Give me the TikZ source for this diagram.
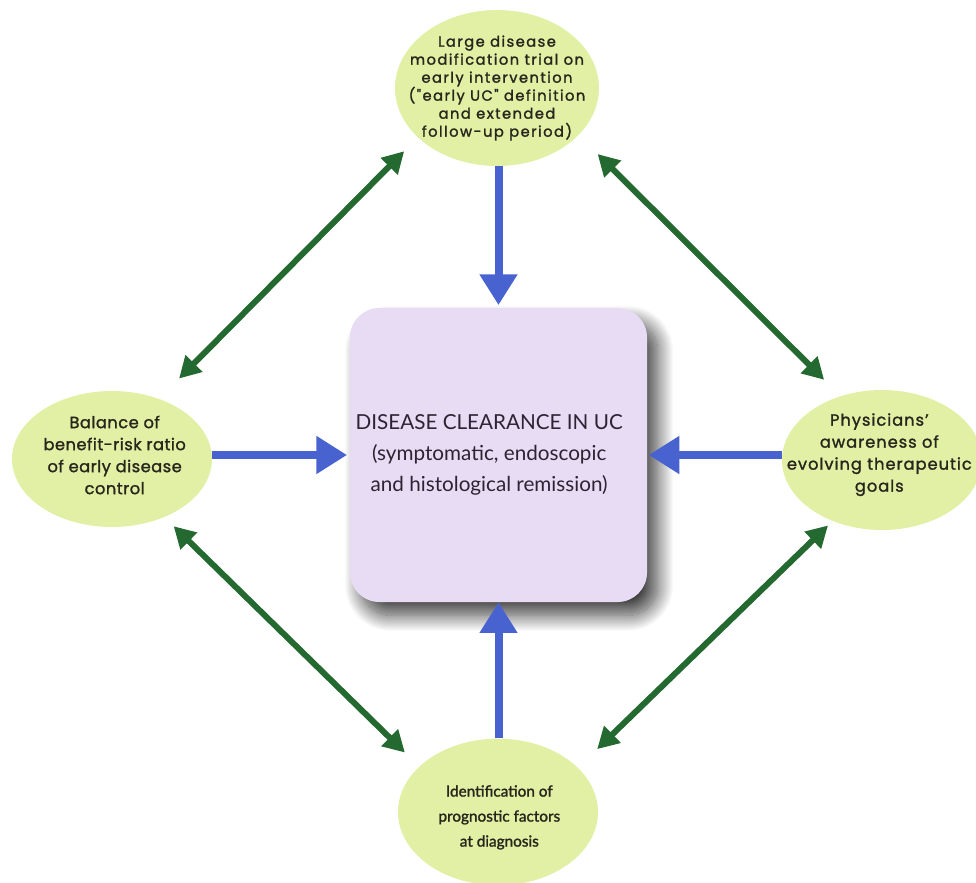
\documentclass[tikz,border=0pt]{standalone}
\usepackage{fontspec}
\setmainfont{Lato}
\newfontfamily\topfont[LetterSpace=10,FakeBold=1.6]{Poppins}
\newfontfamily\sidefont[LetterSpace=3,FakeBold=1.4]{Poppins}
\newfontfamily\rsidefont[LetterSpace=6,FakeBold=1.4]{Poppins}
\newfontfamily\botfont[FakeBold=1.5]{Lato}
\newfontfamily\ctrfont{Lato}
\usetikzlibrary{arrows.meta,shapes.geometric,shadows.blur}
\definecolor{ellfill}{RGB}{225,240,165}
\definecolor{boxfill}{RGB}{232,220,244}
\definecolor{bluearr}{RGB}{72,99,207}
\definecolor{greenarr}{RGB}{35,105,48}
\definecolor{txtdark}{RGB}{40,38,28}
\definecolor{ctrtxt}{RGB}{45,35,50}
\tikzset{
  ellnode/.style={ellipse, fill=ellfill, draw=none, inner sep=0pt},
  toptxt/.style={align=center, font=\topfont\fontsize{11}{13.5}\selectfont, text=txtdark, inner sep=0pt},
  sidetxt/.style={align=center, font=\sidefont\fontsize{12.2}{16.5}\selectfont, text=txtdark, inner sep=0pt},
  rsidetxt/.style={align=center, font=\rsidefont\fontsize{12.2}{16.5}\selectfont, text=txtdark, inner sep=0pt},
  bottxt/.style={align=center, font=\botfont\fontsize{11.5}{18.75}\selectfont, text=txtdark, inner sep=0pt},
  ctrtxtstyle/.style={align=center, font=\ctrfont\fontsize{15.5}{23}\selectfont, text=ctrtxt, inner sep=0pt},
  centerbox/.style={rectangle, rounded corners=22pt, fill=boxfill, draw=none,
     minimum width=222.75pt, minimum height=220.5pt,
     blur shadow={shadow xshift=8pt, shadow yshift=-10pt, shadow opacity=75, shadow blur radius=12pt, shadow blur steps=24}},
  bluearrow/.style={draw=bluearr, line width=6pt, -{Triangle[width=27pt,length=23pt]}},
  greenarrow/.style={draw=greenarr, line width=4.5pt, {Triangle[width=17pt,length=16pt]}-{Triangle[width=17pt,length=16pt]}}
}
\begin{document}
\begin{tikzpicture}[x=0.75pt,y=-0.75pt]
\useasboundingbox (0,0) rectangle (976,883);

% center box
\node[centerbox] (C) at (498.5,455) {};
\node[ctrtxtstyle, xshift=-7pt] (Ct) at (C) {DISEASE CLEARANCE IN UC\\(symptomatic, endoscopic\\and histological remission)};

% ellipses
\node[ellnode, minimum width=153pt, minimum height=117pt] (T) at (497,88) {};
\node[toptxt] (Tt) at (T) {Large disease\\modification trial on\\early intervention\\("early UC" definition\\and extended\\follow-up period)};

\node[ellnode, minimum width=150pt, minimum height=102pt] (L) at (112,459) {};
\node[sidetxt, yshift=3pt, xshift=2pt] (Lt) at (L) {Balance of\\benefit-risk ratio\\of early disease\\control};

\node[ellnode, minimum width=150pt, minimum height=105pt] (R) at (882,460) {};
\node[rsidetxt, yshift=4pt, xshift=-2pt] (Rt) at (R) {Physicians’\\awareness of\\evolving therapeutic\\goals};

\node[ellnode, minimum width=150pt, minimum height=110pt] (B) at (498,812) {};
\node[bottxt, yshift=-4pt, xshift=1pt] (Bt) at (B) {Identification of\\prognostic factors\\at diagnosis};

% blue arrows
\draw[bluearrow, shorten >=2pt] (C.north |- T.south) -- (C.north);
\draw[bluearrow] (C.south |- B.north) -- (C.south);
\draw[bluearrow, shorten >=2pt] (C.west -| L.east) -- (C.west);
\draw[bluearrow, shorten >=1pt] (C.east -| R.west) -- (C.east);

% green arrows
\draw[greenarrow, shorten <=14.5pt, shorten >=21.3pt] (T.212.3) -- (L.52.8);
\draw[greenarrow, shorten <=20.1pt, shorten >=17.3pt] (T.330.3) -- (R.123);
\draw[greenarrow, shorten <=9.7pt, shorten >=15pt] (L.312.8) -- (B.150.2);
\draw[greenarrow, shorten <=4.7pt, shorten >=20pt] (R.231.2) -- (B.29);
\end{tikzpicture}
\end{document}
